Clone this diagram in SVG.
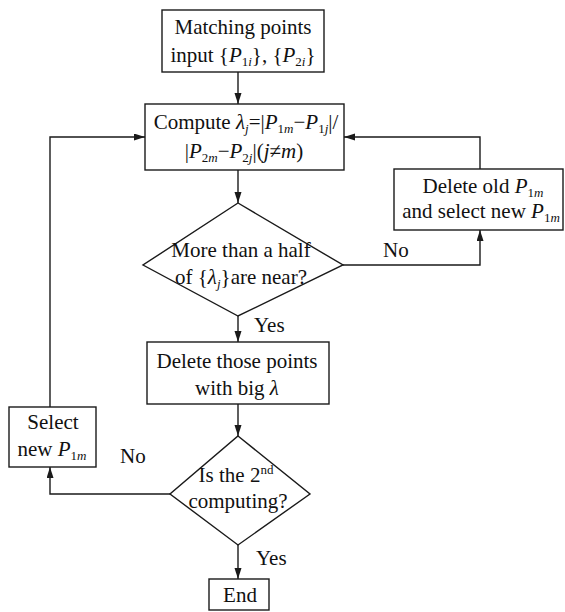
<svg xmlns="http://www.w3.org/2000/svg" width="565" height="612" viewBox="0 0 565 612">
<style>
.b{fill:#fff;stroke:#1a1a1a;stroke-width:1.4}
.t{font-family:"Liberation Serif","Times New Roman",serif;font-size:21px;fill:#111;text-anchor:middle}
.l{font-family:"Liberation Serif","Times New Roman",serif;font-size:21px;fill:#111}
.i{font-style:italic}
.s{font-size:13px}
.c{fill:none;stroke:#1a1a1a;stroke-width:1.4}
</style>
<defs>
<marker id="a" markerUnits="userSpaceOnUse" markerWidth="11" markerHeight="8" refX="11" refY="3.5" orient="auto">
<path d="M0,0 L11,3.5 L0,7 Z" fill="#1a1a1a"/>
</marker>
</defs>
<rect width="565" height="612" fill="#fff"/>
<g id="connectors">
<path class="c" d="M238,72 V104" marker-end="url(#a)"/>
<path class="c" d="M238,170 V203" marker-end="url(#a)"/>
<path class="c" d="M343,265 H480 V230" marker-end="url(#a)"/>
<path class="c" d="M480,169 V137 H344" marker-end="url(#a)"/>
<path class="c" d="M238,316 V342" marker-end="url(#a)"/>
<path class="c" d="M238,404 V436" marker-end="url(#a)"/>
<path class="c" d="M170,494 H50 V467" marker-end="url(#a)"/>
<path class="c" d="M50,407 V137 H145" marker-end="url(#a)"/>
<path class="c" d="M238,545 V579" marker-end="url(#a)"/>
<text class="l" x="383" y="257">No</text>
<text class="l" x="254" y="332">Yes</text>
<text class="l" x="120" y="463">No</text>
<text class="l" x="256" y="565">Yes</text>
</g>
<g id="input">
<rect class="b" x="162" y="10" width="162" height="62"/>
<text class="t" x="243" y="34">Matching points</text>
<text class="t" x="243" y="62">input {<tspan class="i">P</tspan><tspan class="s" dy="4">1</tspan><tspan class="s i">i</tspan><tspan dy="-4">}, {</tspan><tspan class="i">P</tspan><tspan class="s" dy="4">2</tspan><tspan class="s i">i</tspan><tspan dy="-4">}</tspan></text>
</g>
<g id="compute">
<rect class="b" x="145" y="104" width="199" height="66"/>
<text class="t" x="246" y="129">Compute <tspan class="i">λ</tspan><tspan class="s i" dy="4">j</tspan><tspan dy="-4">=|</tspan><tspan class="i">P</tspan><tspan class="s" dy="4">1</tspan><tspan class="s i">m</tspan><tspan dy="-4">−</tspan><tspan class="i">P</tspan><tspan class="s" dy="4">1</tspan><tspan class="s i">j</tspan><tspan dy="-4">|/</tspan></text>
<text class="t" x="244" y="158">|<tspan class="i">P</tspan><tspan class="s" dy="4">2</tspan><tspan class="s i">m</tspan><tspan dy="-4">−</tspan><tspan class="i">P</tspan><tspan class="s" dy="4">2</tspan><tspan class="s i">j</tspan><tspan dy="-4">|(</tspan><tspan class="i">j</tspan>≠<tspan class="i">m</tspan>)</text>
</g>
<g id="decision1">
<polygon class="b" points="238,203 343,265 238,316 143,265"/>
<text class="t" x="241" y="257">More than a half</text>
<text class="t" x="241" y="284">of {<tspan class="i">λ</tspan><tspan class="s i" dy="4">j</tspan><tspan dy="-4">}are near?</tspan></text>
</g>
<g id="deleteold">
<rect class="b" x="394" y="169" width="169" height="61"/>
<text class="t" x="483" y="193">Delete old <tspan class="i">P</tspan><tspan class="s" dy="4">1</tspan><tspan class="s i">m</tspan></text>
<text class="t" x="481" y="218">and select new <tspan class="i">P</tspan><tspan class="s" dy="4">1</tspan><tspan class="s i">m</tspan></text>
</g>
<g id="deletebig">
<rect class="b" x="147" y="342" width="182" height="62"/>
<text class="t" x="237" y="368">Delete those points</text>
<text class="t" x="237" y="395">with big <tspan class="i">λ</tspan></text>
</g>
<g id="decision2">
<polygon class="b" points="238,436 310,494 238,545 170,494"/>
<text class="t" x="236" y="482">Is the 2<tspan class="s" dy="-8">nd</tspan></text>
<text class="t" x="238" y="508">computing?</text>
</g>
<g id="selectnew">
<rect class="b" x="9" y="407" width="87" height="60"/>
<text class="t" x="53" y="429">Select</text>
<text class="t" x="52" y="456">new <tspan class="i">P</tspan><tspan class="s" dy="4">1</tspan><tspan class="s i">m</tspan></text>
</g>
<g id="end">
<rect class="b" x="209" y="579" width="60" height="31"/>
<text class="t" x="240" y="602">End</text>
</g>
</svg>
